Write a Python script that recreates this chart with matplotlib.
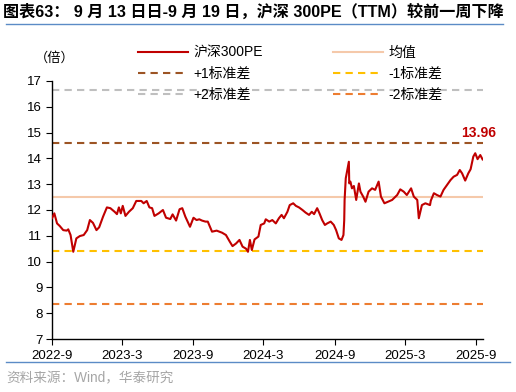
import matplotlib
matplotlib.use("Agg")
import matplotlib.pyplot as plt
import pandas as pd

plt.rcParams['font.family'] = ['Liberation Sans', 'Noto Sans CJK SC', 'DejaVu Sans']

# 沪深300 PE(TTM)
dates = [
    "2022-09-01", "2022-09-07", "2022-09-14", "2022-09-21", "2022-09-30", "2022-10-09",
    "2022-10-13", "2022-10-19", "2022-10-26", "2022-11-03", "2022-11-12", "2022-11-22",
    "2022-12-01", "2022-12-08", "2022-12-16", "2022-12-25", "2023-01-01", "2023-01-11",
    "2023-01-21", "2023-01-30", "2023-02-10", "2023-02-16", "2023-02-21", "2023-02-26",
    "2023-03-03", "2023-03-10", "2023-03-19", "2023-03-29", "2023-04-07", "2023-04-20",
    "2023-04-26", "2023-05-04", "2023-05-11", "2023-05-18", "2023-05-24", "2023-06-04",
    "2023-06-15", "2023-06-23", "2023-07-04", "2023-07-10", "2023-07-19", "2023-07-28",
    "2023-08-04", "2023-08-12", "2023-08-24", "2023-09-02", "2023-09-10", "2023-09-17",
    "2023-09-24", "2023-10-03", "2023-10-09", "2023-10-20", "2023-11-01", "2023-11-15",
    "2023-11-25", "2023-12-05", "2023-12-12", "2023-12-21", "2023-12-30", "2024-01-07",
    "2024-01-16", "2024-01-21", "2024-01-26", "2024-01-31", "2024-02-07", "2024-02-17",
    "2024-02-23", "2024-03-03", "2024-03-07", "2024-03-16", "2024-03-24", "2024-04-02",
    "2024-04-10", "2024-04-17", "2024-04-23", "2024-05-02", "2024-05-08", "2024-05-17",
    "2024-05-24", "2024-06-01", "2024-06-10", "2024-06-18", "2024-06-27", "2024-07-04",
    "2024-07-10", "2024-07-18", "2024-07-24", "2024-07-31", "2024-08-07", "2024-08-13",
    "2024-08-22", "2024-08-30", "2024-09-05", "2024-09-12", "2024-09-19", "2024-09-24",
    "2024-09-26", "2024-09-27", "2024-09-30", "2024-10-08", "2024-10-09", "2024-10-12",
    "2024-10-16", "2024-10-21", "2024-10-27", "2024-11-03", "2024-11-07", "2024-11-14",
    "2024-11-20", "2024-11-28", "2024-12-07", "2024-12-15", "2024-12-24", "2024-12-30",
    "2025-01-08", "2025-01-28", "2025-02-10", "2025-02-18", "2025-02-27", "2025-03-07",
    "2025-03-18", "2025-03-25", "2025-04-03", "2025-04-07", "2025-04-15", "2025-04-24",
    "2025-05-06", "2025-05-08", "2025-05-16", "2025-05-24", "2025-06-02", "2025-06-10",
    "2025-06-19", "2025-06-28", "2025-07-06", "2025-07-15", "2025-07-22", "2025-07-28",
    "2025-08-05", "2025-08-13", "2025-08-19", "2025-08-26", "2025-08-31", "2025-09-06",
    "2025-09-13", "2025-09-19",
]
pe = [
    11.68, 11.87, 11.48, 11.38, 11.22, 11.20,
    11.25, 11.03, 10.38, 10.90, 10.99, 11.03,
    11.22, 11.61, 11.50, 11.22, 11.33, 11.74,
    12.10, 12.07, 11.93, 11.84, 12.10, 11.87,
    12.16, 11.77, 11.93, 12.07, 12.35, 12.35,
    12.26, 12.35, 12.10, 12.07, 11.77, 11.87,
    12.00, 11.70, 11.65, 11.83, 11.59, 12.03,
    12.07, 11.74, 11.35, 11.70, 11.61, 11.64,
    11.59, 11.55, 11.55, 11.16, 11.20, 11.12,
    11.03, 10.77, 10.60, 10.70, 10.84, 10.58,
    10.50, 10.38, 10.84, 10.45, 10.86, 10.97,
    11.42, 11.48, 11.64, 11.55, 11.61, 11.48,
    11.68, 11.81, 11.68, 11.93, 12.19, 12.26,
    12.16, 12.10, 12.00, 11.90, 11.81, 11.93,
    11.84, 12.07, 11.87, 11.61, 11.42, 11.48,
    11.55, 11.42, 11.22, 10.90, 10.84, 11.03,
    11.60, 12.39, 13.23, 13.87, 13.03, 13.10,
    12.84, 12.93, 12.39, 13.03, 12.71, 12.52,
    12.32, 12.71, 12.84, 12.78, 13.10, 12.52,
    12.26, 12.39, 12.58, 12.80, 12.71, 12.58,
    12.84, 12.52, 12.39, 11.68, 12.19, 12.26,
    12.19, 12.36, 12.65, 12.58, 12.52, 12.78,
    12.97, 13.16, 13.29, 13.36, 13.55, 13.42,
    13.14, 13.42, 13.58, 14.07, 14.20, 13.97,
    14.13, 13.96,
]
mean_pe = 12.50
std_pe = 2.08
tick_dates = ["2022-09-01", "2023-03-01", "2023-09-01", "2024-03-01",
              "2024-09-01", "2025-03-01", "2025-09-01"]
tick_labels = ["2022-9", "2023-3", "2023-9", "2024-3", "2024-9", "2025-3", "2025-9"]

x = pd.to_datetime(dates)

fig = plt.figure(figsize=(5.16, 3.92), dpi=100)
ax = fig.add_axes([0.1008, 0.1352, 0.8352, 0.6582])

dash = (3.5, 2.5)
ax.plot(x, pe, color='#C00000', lw=1.5, label='沪深300PE', zorder=5)
ax.axhline(mean_pe + std_pe, color='#9C5424', lw=1.5, ls=(0, dash), label='+1标准差')
ax.axhline(mean_pe + 2 * std_pe, color='#BFBFBF', lw=1.5, ls=(0, dash), label='+2标准差')
ax.axhline(mean_pe, color='#F5C9AA', lw=1.5, label='均值')
ax.axhline(mean_pe - std_pe, color='#FFC000', lw=1.5, ls=(0, dash), label='-1标准差')
ax.axhline(mean_pe - 2 * std_pe, color='#ED7D31', lw=1.5, ls=(0, dash), label='-2标准差')

ax.set_ylim(7, 17)
ax.set_yticks(range(7, 18))
ax.set_xlim(pd.Timestamp("2022-09-01"), pd.Timestamp("2025-09-20"))
ax.set_xticks(pd.to_datetime(tick_dates))
ax.set_xticklabels(tick_labels)
ax.tick_params(axis='x', labelsize=9.5, length=4, direction='out', pad=4)
ax.tick_params(axis='y', labelsize=9.5, length=4, direction='out', pad=3)
for s in ['top', 'right']:
    ax.spines[s].set_visible(False)
for s in ['left', 'bottom']:
    ax.spines[s].set_linewidth(1.0)

ax.annotate(f"{pe[-1]:.2f}", xy=(x[-1], pe[-1]), xytext=(-3, 19),
            textcoords='offset points', ha='center', va='center',
            color='#C00000', fontsize=10, fontweight='bold')

fig.legend(loc='upper left', bbox_to_anchor=(138 / 516, 1 - 46 / 392), ncol=2,
           frameon=False, fontsize=10, handlelength=3.6, handletextpad=0.4,
           columnspacing=5.0, labelspacing=0.5, borderpad=0, borderaxespad=0)

fig.text(35 / 516, 1 - 58 / 392, '（倍）', fontsize=9.5, va='center', ha='left')

fig.text(0.006, 1 - 12 / 392,
         '图表63： 9 月 13 日日-9 月 19 日，沪深 300PE（TTM）较前一周下降',
         fontsize=11.6, fontweight='bold', va='center', ha='left')
fig.add_artist(plt.Line2D([0.012, 0.975], [1 - 24 / 392] * 2, color='#5B8BC6', lw=1))
fig.add_artist(plt.Line2D([0.012, 0.988], [1 - 362 / 392] * 2, color='#5B8BC6', lw=1))
fig.text(0.012, 1 - 378 / 392, '资料来源：Wind，华泰研究', fontsize=9.8,
         color='#A6A6A6', va='center', ha='left')

fig.savefig('out.png', dpi=100)
